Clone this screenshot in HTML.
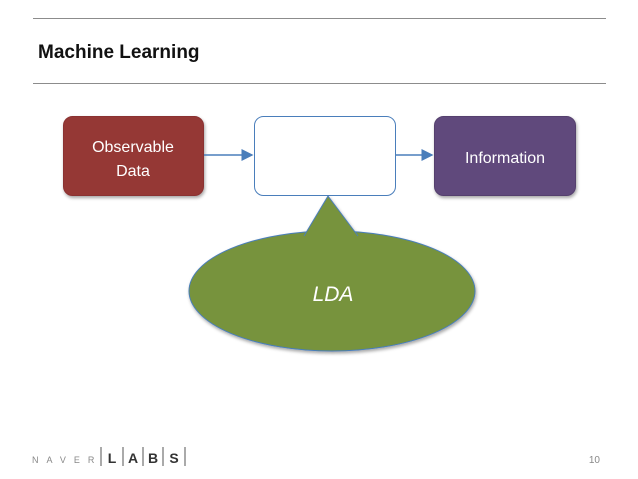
<!DOCTYPE html>
<html><head><style>
body{margin:0;width:638px;height:479px;background:#fff;position:relative;font-family:"Liberation Sans",sans-serif;overflow:hidden}
.hr{position:absolute;left:33px;width:573px;height:1px;background:#8c8c8c}
.t{position:absolute;left:38px;top:42px;font-size:19px;font-weight:bold;color:#111}
</style></head><body>
<div class="hr" style="top:18px"></div>
<div class="t">Machine Learning</div>
<div class="hr" style="top:83px"></div>
<svg width="638" height="479" style="position:absolute;left:0;top:0">
<defs><marker id="a" markerWidth="8" markerHeight="8" refX="7" refY="4" orient="auto"><path d="M0,0L8,4L0,8z" fill="#4a7ebb"/></marker>
<filter id="s"><feDropShadow dx="1" dy="2" stdDeviation="1.5" flood-opacity="0.35"/></filter></defs>
<rect x="63.5" y="116.5" width="140" height="79" rx="9" fill="#953735" stroke="#8a3331" filter="url(#s)"/>
<rect x="254.5" y="116.5" width="141" height="79" rx="9" fill="#fff" stroke="#4a7ebb"/>
<rect x="434.5" y="116.5" width="141" height="79" rx="9" fill="#604a7b" stroke="#55406e" filter="url(#s)"/>
<line x1="204" y1="155" x2="252" y2="155" stroke="#4a7ebb" stroke-width="1.5" marker-end="url(#a)"/>
<line x1="396" y1="155" x2="432" y2="155" stroke="#4a7ebb" stroke-width="1.5" marker-end="url(#a)"/>
<g filter="url(#s)">
<ellipse cx="332" cy="291" rx="143" ry="60" fill="#77933c" stroke="#4a7ebb"/>
<path d="M304,236 L328,196 L358,236 Z" fill="#77933c"/>
<path d="M304,236 L328,196 L358,236" fill="none" stroke="#4a7ebb"/>
</g>
<text x="133" y="152" font-size="16" fill="#fff" text-anchor="middle" font-family="Liberation Sans">Observable</text>
<text x="133" y="176" font-size="16" fill="#fff" text-anchor="middle" font-family="Liberation Sans">Data</text>
<text x="505" y="163" font-size="16" fill="#fff" text-anchor="middle" font-family="Liberation Sans">Information</text>
<text x="333" y="301" font-size="21" fill="#fff" text-anchor="middle" font-style="italic" font-family="Liberation Sans">LDA</text>
<text x="32" y="463" font-size="9" fill="#888" letter-spacing="8" font-family="Liberation Sans">NAVER</text>
<g stroke="#555" stroke-width="1"><line x1="101" y1="447" x2="101" y2="466"/><line x1="123" y1="447" x2="123" y2="466"/><line x1="143" y1="447" x2="143" y2="466"/><line x1="163" y1="447" x2="163" y2="466"/><line x1="185" y1="447" x2="185" y2="466"/></g>
<g font-size="14" font-weight="bold" fill="#333" font-family="Liberation Sans" text-anchor="middle"><text x="112" y="463">L</text><text x="133" y="463">A</text><text x="153" y="463">B</text><text x="174" y="463">S</text></g>
<text x="600" y="463" font-size="10" fill="#888" text-anchor="end" font-family="Liberation Sans">10</text>
</svg>
</body></html>
